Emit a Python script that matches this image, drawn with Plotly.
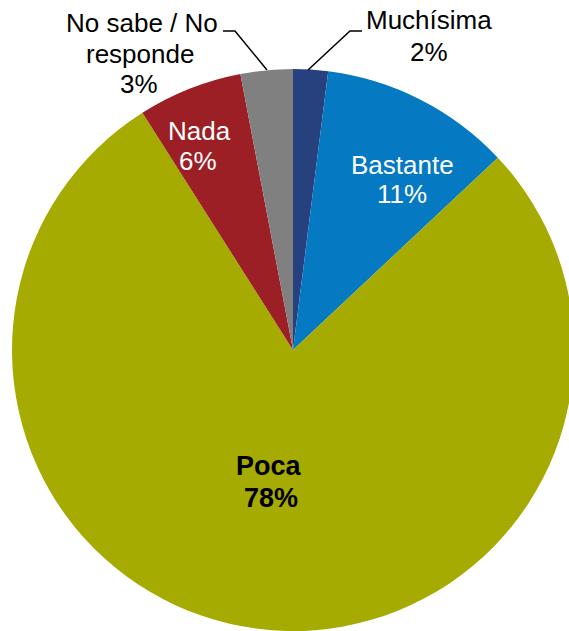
import plotly.graph_objects as go

categories = ["Muchísima", "Bastante", "Poca", "Nada", "No sabe / No responde"]
values = [2, 11, 78, 6, 3]
colors = ["#27417f", "#0579c2", "#a5ab00", "#9b1f24", "#808080"]

W, H = 580, 631
CX, CY, R = 293, 350, 281

def px(x):
    return x / W

def py(y):
    return 1 - y / H

fig = go.Figure(go.Pie(
    labels=categories,
    values=values,
    sort=False,
    direction="clockwise",
    rotation=0,
    marker=dict(colors=colors, line=dict(width=0)),
    textinfo="none",
    hoverinfo="label+percent",
    domain=dict(x=[px(CX - R), px(CX + R)], y=[py(CY + R), py(CY - R)]),
    showlegend=False,
))

font = "Liberation Sans, Arial, sans-serif"
# (text, x, y, color, size, bold)
label_lines = [
    ("Muchísima", 429, 20.5, "black", 26, False),
    ("2%", 429, 51.5, "black", 26, False),
    ("Bastante", 402, 165, "white", 26, False),
    ("11%", 402, 194, "white", 26, False),
    ("Poca", 269, 466, "black", 27, True),
    ("78%", 271, 498, "black", 27, True),
    ("Nada", 199, 131, "white", 26, False),
    ("6%", 198, 161, "white", 26, False),
    ("No sabe / No", 142, 23.3, "black", 26, False),
    ("responde", 140, 53.5, "black", 26, False),
    ("3%", 139, 84, "black", 26, False),
]
for txt, x, y, c, s, b in label_lines:
    fig.add_annotation(
        x=px(x), y=py(y), xref="paper", yref="paper",
        text=f"<b>{txt}</b>" if b else txt, showarrow=False,
        xanchor="center", yanchor="middle",
        font=dict(family=font, size=s, color=c), align="center",
    )

def path(pts):
    return "M " + " L ".join(f"{px(a)},{py(b)}" for a, b in pts)

fig.add_shape(type="path", xref="paper", yref="paper",
              path=path([(308, 70), (350, 31), (362, 31)]),
              line=dict(color="black", width=1.5))
fig.add_shape(type="path", xref="paper", yref="paper",
              path=path([(267, 70), (235, 31), (223, 31)]),
              line=dict(color="black", width=1.5))

fig.update_layout(
    width=W, height=H,
    margin=dict(l=0, r=0, t=0, b=0),
    paper_bgcolor="white", plot_bgcolor="white",
)

fig.write_html(
    "out.html",
    config={"displayModeBar": False},
    post_script="document.body.style.margin='0';document.body.style.overflow='hidden';document.documentElement.style.overflow='hidden';",
)
